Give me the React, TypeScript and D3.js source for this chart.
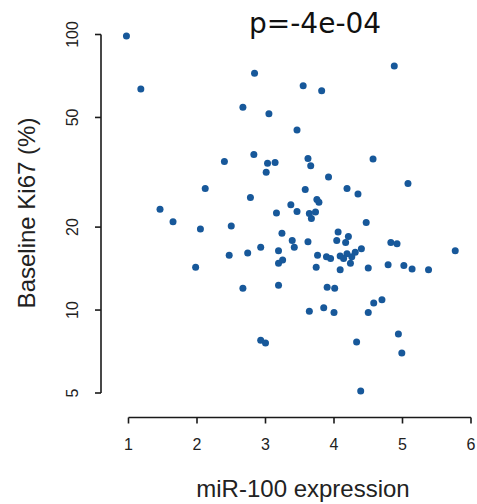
import React from "react";
import * as d3 from "d3";

const mir100: number[] = [
  0.97, 1.18, 2.67, 2.84, 4.88, 3.55, 3.82, 3.05, 3.46, 2.40,
  2.12, 2.83, 4.57, 3.03, 3.14, 3.01, 3.62, 3.66, 3.92, 5.08,
  3.58, 4.19, 4.35, 2.78, 3.75, 3.78, 1.46, 1.65, 2.05, 2.50,
  3.37, 3.46, 3.64, 3.73, 3.67, 4.47, 3.16, 3.24, 4.06, 4.21,
  3.39, 3.42, 3.62, 4.04, 4.17, 4.83, 4.92, 4.40, 2.93, 3.19,
  2.74, 2.47, 5.77, 3.76, 3.89, 3.95, 4.09, 4.19, 4.31, 4.14,
  4.26, 3.19, 3.25, 4.24, 3.74, 4.09, 4.50, 4.79, 5.02, 5.14,
  5.38, 1.98, 2.67, 3.19, 3.90, 4.01, 4.70, 4.58, 3.64, 3.85,
  4.00, 4.50, 2.93, 3.00, 4.33, 4.94, 4.99, 4.39,
];

const ki67: number[] = [
  98.8, 63.4, 54.4, 72.3, 76.8, 65.2, 62.5, 51.6, 45.0, 34.6,
  27.6, 36.7, 35.3, 34.1, 34.3, 31.6, 35.5, 33.4, 30.4, 28.8,
  27.4, 27.6, 26.4, 25.6, 25.2, 24.6, 23.2, 20.9, 19.7, 20.2,
  24.1, 22.8, 22.4, 22.7, 21.5, 20.8, 22.5, 19.0, 19.2, 18.5,
  17.9, 16.9, 17.7, 17.9, 17.6, 17.6, 17.4, 16.7, 16.9, 16.4,
  16.1, 15.8, 16.4, 15.8, 15.6, 15.4, 15.7, 16.0, 16.2, 15.4,
  15.6, 14.8, 15.2, 14.8, 14.3, 14.0, 14.2, 14.6, 14.5, 14.1,
  14.0, 14.3, 12.0, 12.3, 12.1, 12.0, 10.9, 10.6, 9.9, 10.2,
  9.8, 9.8, 7.77, 7.60, 7.66, 8.19, 6.99, 5.08,
];

const xTicks: number[] = [1, 2, 3, 4, 5, 6];
const yTicks: number[] = [5, 10, 20, 50, 100];

const xLabel = "miR-100 expression";
const yLabel = "Baseline Ki67 (%)";
const title = "p=-4e-04";

export default function App() {
  const W = 477;
  const H = 504;
  const x = d3.scaleLinear().domain([1, 6]).range([128.5, 471]);
  const y = d3.scaleLog().domain([5, 100]).range([393, 34.5]);
  const axisY = 417.5;
  const axisX = 101;
  const font = "'Liberation Sans', Arial, Helvetica, sans-serif";
  const ink = "#1a1a1a";

  return (
    <svg
      width={W}
      height={H}
      viewBox={`0 0 ${W} ${H}`}
      style={{ position: "absolute", left: 0, top: 0, background: "#fff" }}
    >
      <rect x={0} y={0} width={W} height={H} fill="#fff" />
      {/* title */}
      <text
        x={249}
        y={33}
        fontFamily="'DejaVu Sans', sans-serif"
        fontSize={28}
        fill="#111"
      >
        {title}
      </text>

      {/* y axis */}
      <line
        x1={axisX}
        x2={axisX}
        y1={y(yTicks[0])}
        y2={y(yTicks[yTicks.length - 1])}
        stroke={ink}
        strokeWidth={1.6}
      />
      {yTicks.map((t) => (
        <g key={`yt${t}`}>
          <line
            x1={axisX - 6}
            x2={axisX}
            y1={y(t)}
            y2={y(t)}
            stroke={ink}
            strokeWidth={1.6}
          />
          <text
            transform={`translate(78.3,${y(t)}) rotate(-90)`}
            textAnchor="middle"
            fontFamily={font}
            fontSize={16}
            fill="#222"
          >
            {t}
          </text>
        </g>
      ))}

      {/* x axis */}
      <line
        x1={x(xTicks[0])}
        x2={x(xTicks[xTicks.length - 1])}
        y1={axisY}
        y2={axisY}
        stroke={ink}
        strokeWidth={1.6}
      />
      {xTicks.map((t) => (
        <g key={`xt${t}`}>
          <line
            x1={x(t)}
            x2={x(t)}
            y1={axisY}
            y2={axisY + 6}
            stroke={ink}
            strokeWidth={1.6}
          />
          <text
            x={x(t)}
            y={450}
            textAnchor="middle"
            fontFamily={font}
            fontSize={16}
            fill="#222"
          >
            {t}
          </text>
        </g>
      ))}

      {/* axis titles */}
      <text
        x={303}
        y={497}
        textAnchor="middle"
        fontFamily={font}
        fontSize={24}
        fill="#222"
      >
        {xLabel}
      </text>
      <text
        transform={`translate(35,213) rotate(-90)`}
        textAnchor="middle"
        fontFamily={font}
        fontSize={24}
        fill="#222"
      >
        {yLabel}
      </text>

      {/* points */}
      {mir100.map((v, i) => (
        <circle
          key={`p${i}`}
          cx={x(v)}
          cy={y(ki67[i])}
          r={3.5}
          fill="#17589a"
        />
      ))}
    </svg>
  );
}
